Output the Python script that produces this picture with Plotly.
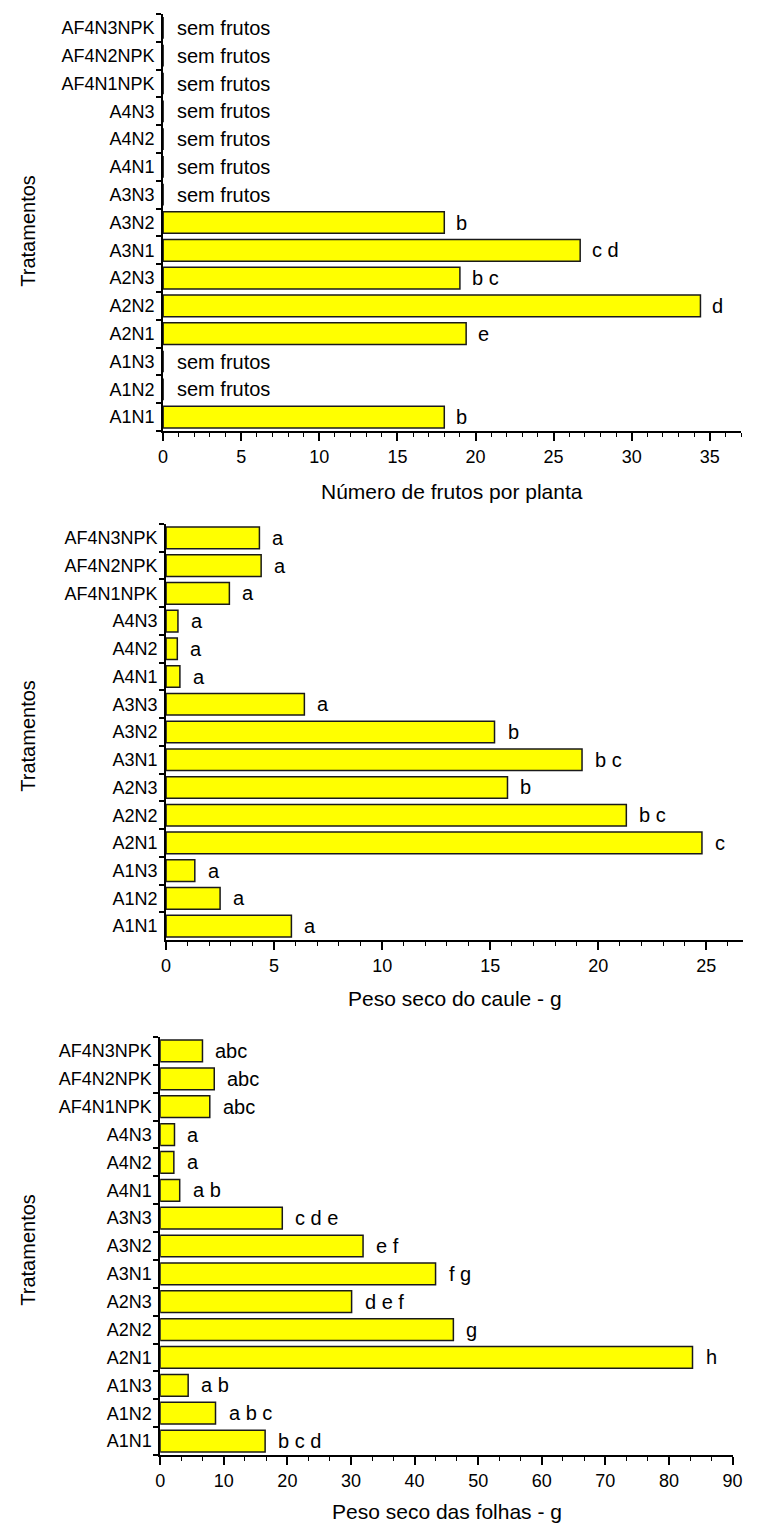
import plotly.graph_objects as go

categorias = ["A1N1", "A1N2", "A1N3", "A2N1", "A2N2", "A2N3", "A3N1", "A3N2", "A3N3",
              "A4N1", "A4N2", "A4N3", "AF4N1NPK", "AF4N2NPK", "AF4N3NPK"]

frutos = [18.0, 0, 0, 19.4, 34.4, 19.0, 26.7, 18.0, 0, 0, 0, 0, 0, 0, 0]
frutos_letras = ["b", "sem frutos", "sem frutos", "e", "d", "b c", "c d", "b",
                 "sem frutos", "sem frutos", "sem frutos", "sem frutos",
                 "sem frutos", "sem frutos", "sem frutos"]

caule = [5.8, 2.5, 1.33, 24.8, 21.3, 15.8, 19.25, 15.2, 6.4, 0.64, 0.52, 0.55, 2.93, 4.4, 4.32]
caule_letras = ["a", "a", "a", "c", "b c", "b", "b c", "b", "a", "a", "a", "a", "a", "a", "a"]

folhas = [16.5, 8.7, 4.4, 83.7, 46.1, 30.1, 43.3, 31.9, 19.2, 3.07, 2.15, 2.25, 7.8, 8.5, 6.65]
folhas_letras = ["b c d", "a b c", "a b", "h", "g", "d e f", "f g", "e f", "c d e",
                 "a b", "a", "a", "abc", "abc", "abc"]

titulos_x = ["Número de frutos por planta", "Peso seco do caule - g", "Peso seco das folhas - g"]
titulo_y = "Tratamentos"

PAGE_W, PAGE_H = 761, 1523
OFF = 8  # default page body margin
W, H = PAGE_W - 2 * OFF, PAGE_H - OFF
FONT = "Liberation Sans, Arial, sans-serif"
FS = 18

# panel geometry in page pixels (left, right, top, bottom)
paineis = [
    dict(l=161, r=750, t=14, b=431, xmax=37.0, dtick=5, minor=1, xt_y=491, shift=10, yt=231),
    dict(l=164, r=752, t=524, b=940, xmax=26.7, dtick=5, minor=1, xt_y=998, shift=11, yt=736),
    dict(l=158, r=742, t=1037, b=1455, xmax=90.1, dtick=10, minor=10 / 3, xt_y=1511, shift=11, yt=1250),
]
dados = [(frutos, frutos_letras), (caule, caule_letras), (folhas, folhas_letras)]


def px_x(v):
    return (v - OFF) / W


def px_y(v):
    return 1 - (v - OFF) / H


fig = go.Figure()
annotations = []
ncat = len(categorias)

for i, (p, (vals, letras)) in enumerate(zip(paineis, dados)):
    n = "" if i == 0 else str(i + 1)
    xa, ya = "x" + n, "y" + n
    fig.add_trace(go.Bar(
        x=vals, y=categorias, orientation="h",
        marker=dict(color="#FFFF00", line=dict(color="#1a1a1a", width=1.5)),
        width=0.78, xaxis=xa, yaxis=ya, showlegend=False, hoverinfo="x+y",
    ))
    for v, c, t in zip(vals, categorias, letras):
        annotations.append(dict(
            x=v, y=c, xref=xa, yref=ya, text=t, showarrow=False,
            xanchor="left", yanchor="middle", xshift=(12 if v == 0 else p["shift"]),
            font=dict(family=FONT, size=20, color="black"),
        ))
    annotations.append(dict(
        x=0.5, y=px_y(p["xt_y"]), xref=xa + " domain", yref="paper",
        text=titulos_x[i], showarrow=False, xanchor="center", yanchor="middle",
        font=dict(family=FONT, size=21, color="black"),
    ))
    annotations.append(dict(
        x=px_x(23), y=px_y(p["yt"]), xref="paper", yref="paper",
        text=titulo_y, showarrow=False, textangle=-90,
        xanchor="center", yanchor="middle",
        font=dict(family=FONT, size=20, color="black"),
    ))
    ydom = [px_y(p["b"]), px_y(p["t"])]
    fig.update_layout(**{
        "xaxis" + n: dict(
            domain=[px_x(p["l"]), min(px_x(p["r"]), 1.0)], anchor=ya,
            range=[0, p["xmax"]], tick0=0, dtick=p["dtick"],
            ticks="outside", ticklen=8, tickwidth=1.5, tickcolor="black",
            ticklabeloverflow="allow",
            showline=True, linecolor="black", linewidth=1.8,
            showgrid=False, zeroline=False,
            tickfont=dict(family=FONT, size=FS, color="black"),
            minor=dict(ticks="outside", ticklen=4, tickwidth=1.2, tickcolor="black",
                       dtick=p["minor"], tick0=0, showgrid=False),
        ),
        "yaxis" + n: dict(
            domain=ydom, anchor=xa,
            type="category", categoryorder="array", categoryarray=categorias,
            range=[-0.5, ncat - 0.5],
            tickson="boundaries", ticks="outside", ticklen=5, tickwidth=1.8,
            tickcolor="black", ticklabelstandoff=3,
            showline=True, linecolor="black", linewidth=1.8,
            showgrid=False, zeroline=False,
            tickfont=dict(family=FONT, size=FS, color="black"),
        ),
    })

fig.update_layout(
    width=W, height=H, margin=dict(l=0, r=0, t=0, b=0),
    paper_bgcolor="white", plot_bgcolor="white",
    bargap=0.22, annotations=annotations,
    font=dict(family=FONT, size=FS, color="black"),
)

fig.write_html("out.html")
